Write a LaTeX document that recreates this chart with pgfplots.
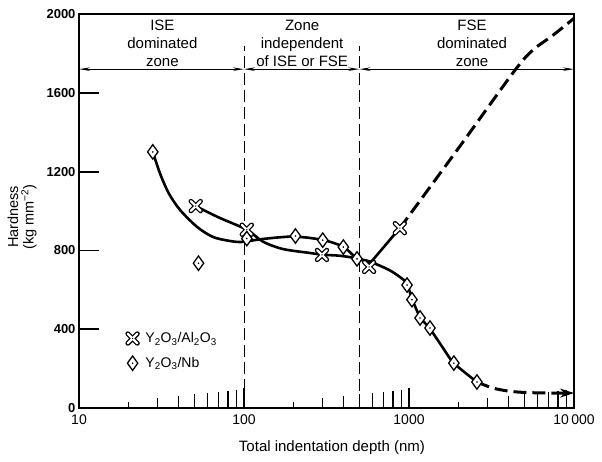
\documentclass[border=0pt]{standalone}
\usepackage{pgfplots}
\pgfplotsset{compat=1.18}
\usepackage{fontspec}
\setmainfont{Liberation Sans}
\usetikzlibrary{arrows.meta}

\pgfdeclareplotmark{ox}{%
  \pgfscope
  \pgfsetroundcap
  \pgfsetstrokecolor{black}%
  \pgfsetlinewidth{4.8pt}%
  \pgfpathmoveto{\pgfqpoint{-4.8pt}{-4.8pt}}\pgfpathlineto{\pgfqpoint{4.8pt}{4.8pt}}%
  \pgfpathmoveto{\pgfqpoint{-4.8pt}{4.8pt}}\pgfpathlineto{\pgfqpoint{4.8pt}{-4.8pt}}%
  \pgfusepathqstroke
  \pgfsetlinewidth{2.3pt}\pgfsetstrokecolor{white}%
  \pgfpathmoveto{\pgfqpoint{-4.8pt}{-4.8pt}}\pgfpathlineto{\pgfqpoint{4.8pt}{4.8pt}}%
  \pgfpathmoveto{\pgfqpoint{-4.8pt}{4.8pt}}\pgfpathlineto{\pgfqpoint{4.8pt}{-4.8pt}}%
  \pgfusepathqstroke
  \pgfsetfillcolor{black}\pgfpathcircle{\pgfpointorigin}{0.7pt}\pgfusepathqfill
  \endpgfscope
}
\pgfdeclareplotmark{dia}{%
  \pgfscope
  \pgfsetlinewidth{1.3pt}\pgfsetmiterjoin
  \pgfsetstrokecolor{black}%
  \pgfpathmoveto{\pgfqpoint{0pt}{7.2pt}}\pgfpathlineto{\pgfqpoint{5.2pt}{0pt}}%
  \pgfpathlineto{\pgfqpoint{0pt}{-7.2pt}}\pgfpathlineto{\pgfqpoint{-5.2pt}{0pt}}\pgfpathclose
  \pgfsetfillcolor{white}\pgfusepath{fill,stroke}%
  \pgfsetfillcolor{black}\pgfpathcircle{\pgfpointorigin}{0.9pt}\pgfusepath{fill}%
  \endpgfscope
}

\begin{document}
\begin{tikzpicture}
\useasboundingbox (-79pt,-53pt) rectangle (523pt,408pt);
\begin{axis}[
  scale only axis, width=495pt, height=394pt,
  xmode=log, log basis x=10,
  xmin=10, xmax=10000, ymin=0, ymax=2000,
  xtick={10,100,1000,10000}, xticklabels={10,100,1000,10\,000},
  xminorticks=false,
  ytick={0,400,800,1200,1600,2000},
  tick align=inside, major tick length=20pt,
  xtick pos=bottom, ytick pos=left,
  axis line style={line width=2pt},
  every tick/.style={line width=1.8pt, black},
  /pgf/number format/assume math mode=true,
  /pgf/number format/1000 sep={},
  yticklabel style={font=\bfseries\fontsize{13}{13}\selectfont},
  xticklabel style={font=\fontsize{14}{14}\selectfont, yshift=-3pt},
  xlabel={Total indentation depth (nm)},
  xlabel style={at={(axis description cs:0.511,-0.1015)}, anchor=center, font=\fontsize{15}{15}\selectfont},
  ylabel={Hardness\\(kg mm\textsuperscript{−2})},
  ylabel style={at={(axis description cs:-0.115,0.485)}, anchor=center, align=center, font=\fontsize{14.5}{15.5}\selectfont},
  legend style={at={(axis description cs:0.09,0.145)}, anchor=west, draw=none, fill=none,
    font=\fontsize{14}{16}\selectfont, row sep=9pt},
  legend cell align=left,
  clip=false,
]
% zone boundaries
\addplot[forget plot, line width=1pt, dash pattern=on 12pt off 5pt] coordinates {(100,0) (100,1840)};
\addplot[forget plot, line width=1pt, dash pattern=on 12pt off 5pt] coordinates {(500,0) (500,1840)};
\addplot[forget plot, line width=1.3pt, {Stealth[length=11pt,width=3.5pt]}-{Stealth[length=11pt,width=3.5pt]}] coordinates {(10,1720) (100,1720)};
\addplot[forget plot, line width=1.3pt, {Stealth[length=11pt,width=3.5pt]}-{Stealth[length=11pt,width=3.5pt]}] coordinates {(100,1720) (500,1720)};
\addplot[forget plot, line width=1.3pt, {Stealth[length=11pt,width=3.5pt]}-{Stealth[length=11pt,width=3.5pt]}] coordinates {(500,1720) (10000,1720)};

% graduated minor ticks
\foreach \d in {10,100,1000}{\foreach \k in {2,...,9}{%
  \pgfmathsetmacro\xx{\k*\d}\pgfmathsetmacro\hh{91*log10(\k)+5}%
  \edef\tmp{\noexpand\draw[line width=1.2pt] (axis cs:\xx,0) -- (axis cs:\xx,\hh);}\tmp}}

% Y2O3/Nb fitted curve
\addplot[forget plot, line width=2.6pt, smooth, tension=0.5] coordinates {
(28,1300) (31,1190) (35,1090) (41,1005) (52,919) (65,868) (82,848) (98,843) (130,858) (200,870)
(300,853) (400,818) (484,760) (600,738) (760,700) (880,665) (970,632) (1042,555)
(1167,462) (1340,402) (1607,305) (1870,228) (2580,132)};
\addplot[forget plot, line width=3pt, dash pattern=on 13pt off 6pt, smooth, tension=0.5,
  -{Stealth[length=14pt,width=9pt]}] coordinates {
(2580,132) (3200,102) (4000,86) (5000,79) (7000,76) (10000,76)};

% Y2O3/Al2O3 fitted curve
\addplot[forget plot, line width=2.6pt, smooth, tension=0.5] coordinates {
(51,1025) (70,968) (104,905) (130,845) (172,807) (251,787) (300,778) (380,773) (480,760) (590,742)};
\addplot[forget plot, line width=2.6pt] coordinates {(590,742) (880,913)};
\addplot[forget plot, line width=3pt, dash pattern=on 13pt off 6pt, smooth, tension=0.5] coordinates {
(880,913) (2000,1320) (4300,1705) (5600,1815) (7400,1890) (10000,1978)};

% data points
\addplot[only marks, mark=ox, black] coordinates {
(51,1025) (104,905) (297,777) (573,716) (880,913)};
\addlegendentry{\hspace{5pt}Y\textsubscript{2}O\textsubscript{3}/Al\textsubscript{2}O\textsubscript{3}}
\addplot[only marks, mark=dia, black] coordinates {
(28,1300) (53,735) (104,860) (205,873) (300,852) (400,817) (484,757) (973,624)
(1042,550) (1167,457) (1340,406) (1870,228) (2580,132)};
\addlegendentry{\hspace{5pt}Y\textsubscript{2}O\textsubscript{3}/Nb}

% zone labels
\node[align=center, font=\fontsize{15}{18}\selectfont] at (axis cs:32,1853) {ISE\\dominated\\zone};
\node[align=center, font=\fontsize{15}{18}\selectfont] at (axis cs:225,1853) {Zone\\independent\\of ISE or FSE};
\node[align=center, font=\fontsize{15}{18}\selectfont] at (axis cs:2410,1853) {FSE\\dominated\\zone};
\end{axis}
\end{tikzpicture}
\end{document}
